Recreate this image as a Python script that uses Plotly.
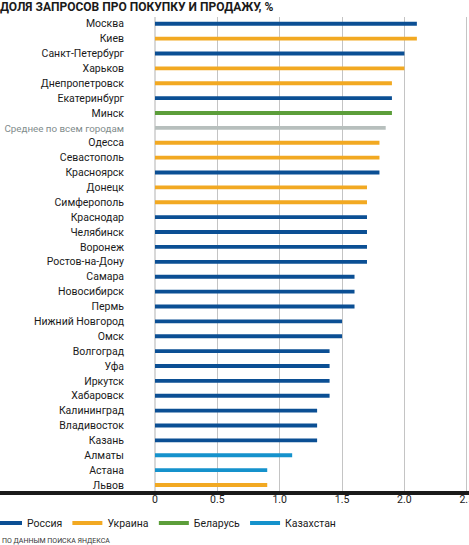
import plotly.graph_objects as go

# rows top to bottom
cities = ["Москва", "Киев", "Санкт-Петербург", "Харьков", "Днепропетровск",
          "Екатеринбург", "Минск", "Среднее по всем городам", "Одесса", "Севастополь",
          "Красноярск", "Донецк", "Симферополь", "Краснодар", "Челябинск", "Воронеж",
          "Ростов-на-Дону", "Самара", "Новосибирск", "Пермь", "Нижний Новгород", "Омск",
          "Волгоград", "Уфа", "Иркутск", "Хабаровск", "Калининград", "Владивосток",
          "Казань", "Алматы", "Астана", "Львов"]
values = [2.1, 2.1, 2.0, 2.0, 1.9, 1.9, 1.9, 1.85, 1.8, 1.8, 1.8, 1.7, 1.7, 1.7, 1.7,
          1.7, 1.7, 1.6, 1.6, 1.6, 1.5, 1.5, 1.4, 1.4, 1.4, 1.4, 1.3, 1.3, 1.3, 1.1,
          0.9, 0.9]
country = ["ru", "ua", "ru", "ua", "ua", "ru", "by", "avg", "ua", "ua", "ru", "ua", "ua",
           "ru", "ru", "ru", "ru", "ru", "ru", "ru", "ru", "ru", "ru", "ru", "ru", "ru",
           "ru", "ru", "ru", "kz", "kz", "ua"]

groups = ["ru", "ua", "by", "kz", "avg"]
group_names = {"ru": "Россия", "ua": "Украина", "by": "Беларусь", "kz": "Казахстан", "avg": "Среднее"}
colors = {"ru": "#0b4f94", "ua": "#f2a922", "by": "#5c9e3a", "kz": "#1592cc", "avg": "#b7bfbd"}

x_ticks = [0, 0.5, 1.0, 1.5, 2.0, 2.5]
x_tick_text = ["0", "0.5", "1.0", "1.5", "2.0", "2.5"]

FONT = "Roboto, 'Open Sans', sans-serif"

fig = go.Figure()
for g in groups:
    xs = [v for v, c in zip(values, country) if c == g]
    ys = [n for n, c in zip(cities, country) if c == g]
    fig.add_trace(go.Bar(x=xs, y=ys, orientation="h", width=0.26,
                         marker=dict(color=colors[g], line_width=0),
                         showlegend=False, hoverinfo="x+y"))
    if g != "avg":
        # legend entry drawn as a line
        fig.add_trace(go.Scatter(x=[None], y=[None], mode="lines", name=group_names[g],
                                 line=dict(color=colors[g], width=4)))

# the average row is grey and a touch narrower so it fits on the left
labels = ['<span style="color:#7f8c8c;font-size:9.8px">%s</span>' % c
          if c.startswith("Среднее") else c for c in cities]

fig.update_layout(
    width=469, height=545,
    margin=dict(l=155, r=1, t=17, b=54, autoexpand=False),
    plot_bgcolor="white", paper_bgcolor="white",
    barmode="overlay",
    font=dict(family=FONT, size=11, color="#1a1a1a"),
    title=dict(text="<b>ДОЛЯ ЗАПРОСОВ ПРО ПОКУПКУ И ПРОДАЖУ, %</b>",
               x=0, xref="container", xanchor="left",
               y=1 - 7 / 545, yref="container", yanchor="middle",
               font=dict(size=12, color="#1a1a1a")),
    legend=dict(orientation="h", x=(-13 - 155) / 313, xanchor="left",
                y=-(523 - 491) / 474, yanchor="middle",
                font=dict(size=10.5), bgcolor="rgba(0,0,0,0)"),
    showlegend=True,
)
fig.update_xaxes(range=[0, 2.51], tickvals=x_ticks, ticktext=x_tick_text,
                 showgrid=True, gridcolor="#c4c4c4", gridwidth=1,
                 zeroline=True, zerolinecolor="#d8d8d8", zerolinewidth=2,
                 showline=False, ticks="", fixedrange=True, automargin=False,
                 ticklabeloverflow="allow", tickfont=dict(size=10.5))
fig.update_yaxes(categoryorder="array", categoryarray=cities,
                 tickvals=cities, ticktext=labels,
                 range=[len(cities) - 0.6, -0.45],
                 showgrid=False, zeroline=False, showline=False, ticks="",
                 ticklabelstandoff=30, automargin=False,
                 tickfont=dict(size=10.5))

fig.add_shape(type="line", xref="paper", yref="paper", x0=-0.6, x1=1.1, y0=-0.004, y1=-0.004,
              line=dict(color="#1a1a1a", width=4))
fig.add_annotation(text="ПО ДАННЫМ ПОИСКА ЯНДЕКСА", xref="paper", yref="paper",
                   x=-155 / 313, xanchor="left", y=-(541 - 491) / 474, yanchor="middle",
                   showarrow=False, font=dict(size=7, color="#333333"))

# page has a default 8px body margin, drop it so the figure sits at 0,0
fig.write_html("out.html", config={"displayModeBar": False},
               post_script="document.body.style.margin = '0';")
